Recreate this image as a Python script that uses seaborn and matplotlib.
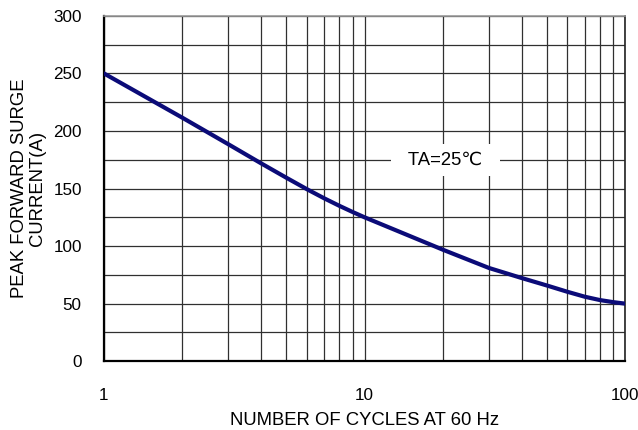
import matplotlib
matplotlib.use("Agg")
import matplotlib.pyplot as plt
from matplotlib.ticker import FixedLocator, NullFormatter
import pandas as pd
import seaborn as sns

cycles = [1, 2, 3, 4, 5, 6, 7, 8, 9, 10, 20, 30, 40, 50, 60, 70, 80, 90, 100]
current = [250, 211.5, 188.5, 172, 159.5, 149.5, 141.5, 135, 129.6, 125,
           96.8, 81, 72.3, 65.8, 60.3, 56, 53.1, 51.3, 50]
x_ticks = [1, 10, 100]
y_ticks = [0, 50, 100, 150, 200, 250, 300]

df = pd.DataFrame({"cycles": cycles, "current": current})

sns.set_style("white")
plt.rcParams["font.family"] = ["Liberation Sans", "DejaVu Sans"]
plt.rcParams["text.color"] = "black"
plt.rcParams["axes.labelcolor"] = "black"
plt.rcParams["xtick.color"] = "black"
plt.rcParams["ytick.color"] = "black"

fs = 13.3

fig = plt.figure(figsize=(6.38, 4.30), dpi=100)
ax = fig.add_axes([0.163, 0.160, 0.817, 0.803])

sns.lineplot(data=df, x="cycles", y="current", color="#0b0b78",
             linewidth=3.0, ax=ax, zorder=5)

ax.set_xscale("log")
ax.set_xlim(1, 100)
ax.set_ylim(0, 300)
ax.set_xticks(x_ticks)
ax.set_xticklabels(["1", "10", "100"])
ax.set_yticks(y_ticks)
ax.yaxis.set_minor_locator(FixedLocator(range(25, 300, 50)))
ax.xaxis.set_minor_locator(FixedLocator([2, 3, 4, 5, 6, 7, 8, 9,
                                         20, 30, 40, 50, 60, 70, 80, 90]))
ax.xaxis.set_minor_formatter(NullFormatter())

ax.grid(True, which="both", color="#303030", linewidth=0.9)
ax.tick_params(which="both", length=0, labelsize=12.3)
ax.tick_params(axis="x", pad=19)
ax.tick_params(axis="y", pad=16)

for side in ["left", "bottom"]:
    ax.spines[side].set_color("black")
    ax.spines[side].set_linewidth(1.6)
ax.spines["right"].set_color("#222222")
ax.spines["right"].set_linewidth(1.2)
ax.spines["top"].set_color("#999999")
ax.spines["top"].set_linewidth(1.2)

ax.set_xlabel("NUMBER OF CYCLES AT 60 Hz", fontsize=fs, labelpad=7)
ax.set_ylabel("PEAK FORWARD SURGE\nCURRENT(A)", fontsize=fs, labelpad=5,
              linespacing=1.1)

ax.text(20.4, 175, "  TA=25\u2103  ", fontsize=fs, ha="center", va="center",
        zorder=4, bbox=dict(facecolor="white", edgecolor="none",
                            boxstyle="square,pad=0.4"))

fig.savefig("out.png", dpi=100)
